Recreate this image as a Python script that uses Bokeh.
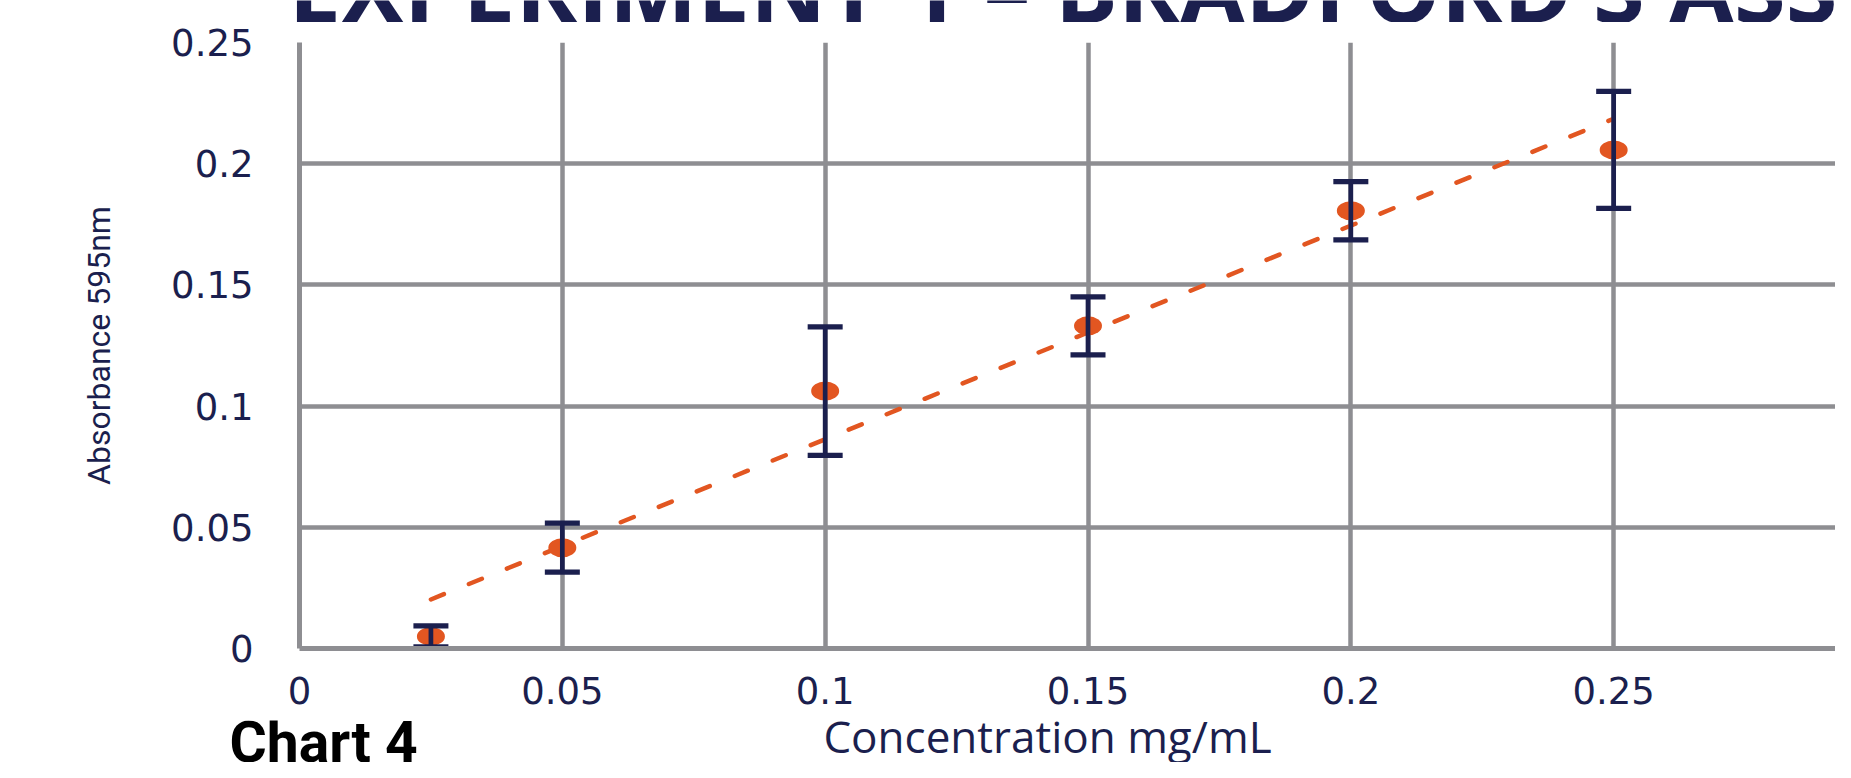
import numpy as np
from bokeh.plotting import figure
from bokeh.layouts import column
from bokeh.models import ColumnDataSource, Whisker, TeeHead, Label, FixedTicker
from bokeh.embed import file_html
from bokeh.resources import INLINE

# ---------------- data ----------------
concentration = [0.025, 0.05, 0.1, 0.15, 0.2, 0.25]
absorbance = [0.0050, 0.0416, 0.1062, 0.1331, 0.1806, 0.2057]
abs_error = [0.0043, 0.0101, 0.0265, 0.0120, 0.0120, 0.0241]

x_ticks = [0, 0.05, 0.1, 0.15, 0.2, 0.25, 0.3]
x_tick_labels = ["0", "0.05", "0.1", "0.15", "0.2", "0.25", "0.3"]
y_ticks = [0, 0.05, 0.1, 0.15, 0.2, 0.25]
y_tick_labels = ["0", "0.05", "0.1", "0.15", "0.2", "0.25"]

title_text = "EXPERIMENT 1 \u2013 BRADFORD\u2019S ASSAY"
x_title = "Concentration mg/mL"
y_title = "Absorbance 595nm"
caption_text = "Chart 4"

# ---------------- styles ----------------
NAVY = "#1b1f4e"
ORANGE = "#e25621"
GRID = "#8e8e92"
W = 1835


def text_strip(height):
    f = figure(width=W, height=height, x_range=(0, 1), y_range=(0, 1),
               output_backend="svg", toolbar_location=None,
               x_axis_location=None, y_axis_location=None,
               min_border=0, min_border_left=0, min_border_right=0,
               min_border_top=0, min_border_bottom=0, frame_align=False)
    f.outline_line_color = None
    f.grid.visible = False
    f.background_fill_color = "white"
    f.border_fill_color = "white"
    return f


# ---------- title strip (title is cut by the top edge, as in the slide) ----------
top = text_strip(22)
top.add_layout(Label(x=288, y=36, x_units="screen", y_units="screen",
                     text=title_text, text_font="Open Sans", text_font_size="94px",
                     text_font_style="bold", text_color=NAVY,
                     text_align="left", text_baseline="middle"))

# ---------- main chart ----------
upper = [a + e for a, e in zip(absorbance, abs_error)]
lower = [a - e for a, e in zip(absorbance, abs_error)]
src = ColumnDataSource(dict(x=concentration, y=absorbance, upper=upper, lower=lower))

# linear trendline (least squares fit of the series)
slope, intercept = np.polyfit(concentration, absorbance, 1)
trend_x = [min(concentration), max(concentration)]
trend_y = [slope * v + intercept for v in trend_x]

p = figure(width=W, height=698, x_range=(0, 0.2922), y_range=(0, 0.25),
           output_backend="svg", toolbar_location=None,
           min_border_left=299, min_border_right=0,
           min_border_top=20, min_border_bottom=72, frame_align=False)
p.outline_line_color = None
p.background_fill_color = "white"
p.border_fill_color = "white"

p.xaxis.ticker = FixedTicker(ticks=x_ticks)
p.yaxis.ticker = FixedTicker(ticks=y_ticks)
p.xgrid.ticker = FixedTicker(ticks=x_ticks)
p.ygrid.ticker = FixedTicker(ticks=y_ticks)
p.xaxis.major_label_overrides = dict(zip(x_ticks, x_tick_labels))
p.yaxis.major_label_overrides = dict(zip(y_ticks, y_tick_labels))

for ax in (p.xaxis[0], p.yaxis[0]):
    ax.axis_line_color = GRID
    ax.axis_line_width = 5
    ax.major_tick_line_color = None
    ax.minor_tick_line_color = None
    ax.major_tick_out = 0
    ax.major_tick_in = 0
    ax.major_label_text_font = "DejaVu Sans"
    ax.major_label_text_font_size = "37px"
    ax.major_label_text_color = NAVY

p.xaxis.major_label_standoff = 28
p.yaxis.major_label_standoff = 46

p.yaxis.axis_label = y_title
p.yaxis.axis_label_text_font = "Roboto"
p.yaxis.axis_label_text_font_size = "32px"
p.yaxis.axis_label_text_font_style = "normal"
p.yaxis.axis_label_text_color = NAVY
p.yaxis.axis_label_standoff = 50

for g in (p.xgrid[0], p.ygrid[0]):
    g.grid_line_color = GRID
    g.grid_line_width = 4.5

# trendline
p.line(trend_x, trend_y, line_color=ORANGE, line_width=4.5,
       line_dash="14 27", line_cap="round")

# error bars
p.add_layout(Whisker(source=src, base="x", upper="upper", lower="lower",
                     line_color=NAVY, line_width=4.7, level="glyph",
                     upper_head=TeeHead(size=35, line_color=NAVY, line_width=5.3),
                     lower_head=TeeHead(size=35, line_color=NAVY, line_width=5.3)))

# markers
p.ellipse(x="x", y="y", width=28, height=19, width_units="screen",
          height_units="screen", source=src, fill_color=ORANGE, line_color=None)

# ---------- bottom strip: caption and x-axis title ----------
bottom = text_strip(42)
bottom.add_layout(Label(x=229, y=20, x_units="screen", y_units="screen",
                        text=caption_text, text_font="Roboto", text_font_size="57px",
                        text_font_style="bold", text_color="black",
                        text_align="left", text_baseline="middle"))
bottom.add_layout(Label(x=1047, y=27, x_units="screen", y_units="screen",
                        text=x_title, text_font="Open Sans", text_font_size="44px",
                        text_color=NAVY, text_align="center", text_baseline="middle"))

layout = column(top, p, bottom, spacing=0)
open("out.html", "w").write(file_html(layout, INLINE))
